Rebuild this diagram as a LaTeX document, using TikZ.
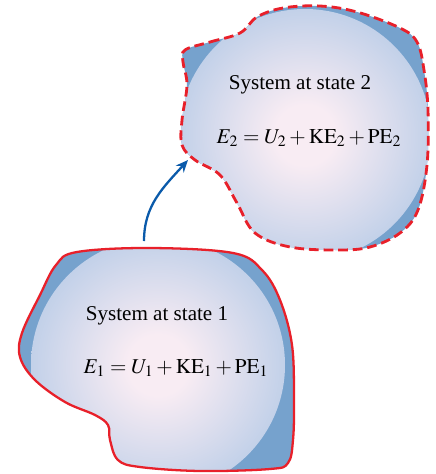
\documentclass[tikz,border=0pt]{standalone}
\usepackage{mathptmx}
\usepackage{fontspec}
\setmainfont{Liberation Serif}
\usetikzlibrary{arrows.meta}

\definecolor{rimblue}{RGB}{118,162,205}
\definecolor{paleblue}{RGB}{163,193,227}
\definecolor{pinkwhite}{RGB}{248,236,243}
\definecolor{wallred}{RGB}{232,32,42}
\definecolor{pathblue}{RGB}{10,90,170}

% soft glow inside each system
\pgfdeclareradialshading{glow}{\pgfpoint{0bp}{0bp}}{%
	color(0bp)=(pinkwhite); color(6bp)=(pinkwhite); color(36bp)=(paleblue); color(50bp)=(paleblue)}

% outlines of the two systems (pixel coordinates)
\newcommand{\blobone}{plot[smooth cycle, tension=0.6] coordinates {(77,252) (150,248) (233,253) (262,270) (280,300) (292,345) (294,400) (293,440) (288,463) (270,469) (200,471) (140,467) (118,460) (110,440) (108,425) (95,415) (65,402) (35,380) (20,357) (22,333) (40,295) (56,265)}}
\newcommand{\blobtwo}{plot[smooth cycle, tension=0.6] coordinates {(185,50) (210,42) (240,33) (257,17) (283,8) (320,6) (357,12) (400,28) (417,42) (424,70) (428,110) (427,165) (418,210) (400,233) (370,247) (337,250) (290,247) (255,233) (237,203) (220,175) (195,160) (182,145) (182,120) (187,85) (183,62)}}

\begin{document}
\begin{tikzpicture}[
			x=0.02cm, y=-0.02cm,
			txt/.style={font=\fontsize{12}{14}\selectfont, inner sep=0pt},
			wall/.style={draw=wallred, line width=1.3pt},
			arrow/.style={-{Stealth[length=7pt, width=6pt]}, line width=1.3pt, draw=pathblue}
			]
			\useasboundingbox (0,0) rectangle (436,474);
			
			% System 1
			\begin{scope}
				\clip \blobone;
				\fill[rimblue] (0,230) rectangle (310,474);
				\shade[shading=glow] (158,365) circle (127);
			\end{scope}
			\draw[wall] \blobone;
			
			% System 2
			\begin{scope}
				\clip \blobtwo;
				\fill[rimblue] (170,0) rectangle (436,260);
				\shade[shading=glow] (305,135) circle (126);
			\end{scope}
			\draw[wall, line width=1.6pt, dash pattern=on 5.5pt off 2.8pt] \blobtwo;
			
			% Labels
			\node[txt] (s1) at (157,316) {System at state 1};
			\node[txt] (e1) at (176,368) {$E_1 = U_1 + \mathrm{KE}_1 + \mathrm{PE}_1$};
			\node[txt] (s2) at (300,85) {System at state 2};
			\node[txt] (e2) at (309,138) {$E_2 = U_2 + \mathrm{KE}_2 + \mathrm{PE}_2$};
			
			% Process
			\coordinate (from) at (144,241);
			\coordinate (to) at (188,160);
			\draw[arrow] (from) to[out=90, in=-132] (to);
			
		\end{tikzpicture}
\end{document}
